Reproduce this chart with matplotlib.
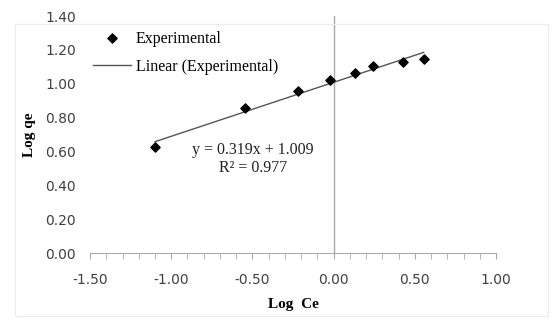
import matplotlib
matplotlib.use("Agg")
import matplotlib.pyplot as plt
from matplotlib.patches import Rectangle

# data
log_ce = [-1.10, -0.547, -0.221, -0.024, 0.130, 0.240, 0.425, 0.554]
log_qe = [0.625, 0.855, 0.956, 1.020, 1.062, 1.103, 1.127, 1.145]
slope = 0.319
intercept = 1.009
r2 = 0.977

fig = plt.figure(figsize=(5.54, 3.22), dpi=100)
ax = fig.add_axes([0.1625, 0.214, 0.733, 0.736])

# faint chart border
fig.patches.append(Rectangle((0.027, 0.02), 0.962, 0.905, transform=fig.transFigure,
                             fill=False, edgecolor="#ececec", linewidth=0.8))

ax.scatter(log_ce, log_qe, marker="D", s=22, color="black", zorder=3, label="Experimental")
fit_x = [min(log_ce), max(log_ce)]
fit_y = [slope * v + intercept for v in fit_x]
ax.plot(fit_x, fit_y, color="#555555", linewidth=1.0, label="Linear (Experimental)")

ax.set_xlim(-1.5, 1.0)
ax.set_ylim(0, 1.4)

for s in ["top", "right", "left"]:
    ax.spines[s].set_visible(False)
ax.spines["bottom"].set_color("#aaaaaa")
ax.axvline(0, color="#aaaaaa", linewidth=1.0, zorder=1)

ax.set_xticks([-1.5, -1.0, -0.5, 0.0, 0.5, 1.0])
ax.set_xticks([i / 10 for i in range(-15, 11)], minor=True)
ax.set_xticklabels(["-1.50", "-1.00", "-0.50", "0.00", "0.50", "1.00"])
ax.set_yticks([i / 5 for i in range(8)])
ax.set_yticklabels(["%.2f" % (i / 5) for i in range(8)])
ax.tick_params(axis="x", which="both", direction="out", length=4, color="#aaaaaa",
               labelsize=10, labelcolor="#404040", pad=10)
ax.tick_params(axis="y", length=0, labelsize=10, labelcolor="#404040", pad=10)

serif = ["Liberation Serif", "DejaVu Serif"]
ax.set_xlabel("Log  Ce", fontfamily=serif, fontweight="bold", fontsize=11, labelpad=8)
ax.set_ylabel("Log qe", fontfamily=serif, fontweight="bold", fontsize=11, labelpad=7)

ax.text(-0.498, 0.608, "y = 0.319x + 1.009", fontfamily=serif, fontsize=11.5,
        ha="center", va="center", color="#222222")
ax.text(-0.498, 0.503, "R\u00b2 = 0.977", fontfamily=serif, fontsize=11.5,
        ha="center", va="center", color="#222222")

ax.legend(loc="upper left", bbox_to_anchor=(0.156, 0.925), bbox_transform=fig.transFigure,
          frameon=False, prop={"family": serif, "size": 11.5}, handlelength=2.4,
          handletextpad=0.3, labelspacing=0.75, borderaxespad=0)

fig.savefig("out.png", dpi=100)
